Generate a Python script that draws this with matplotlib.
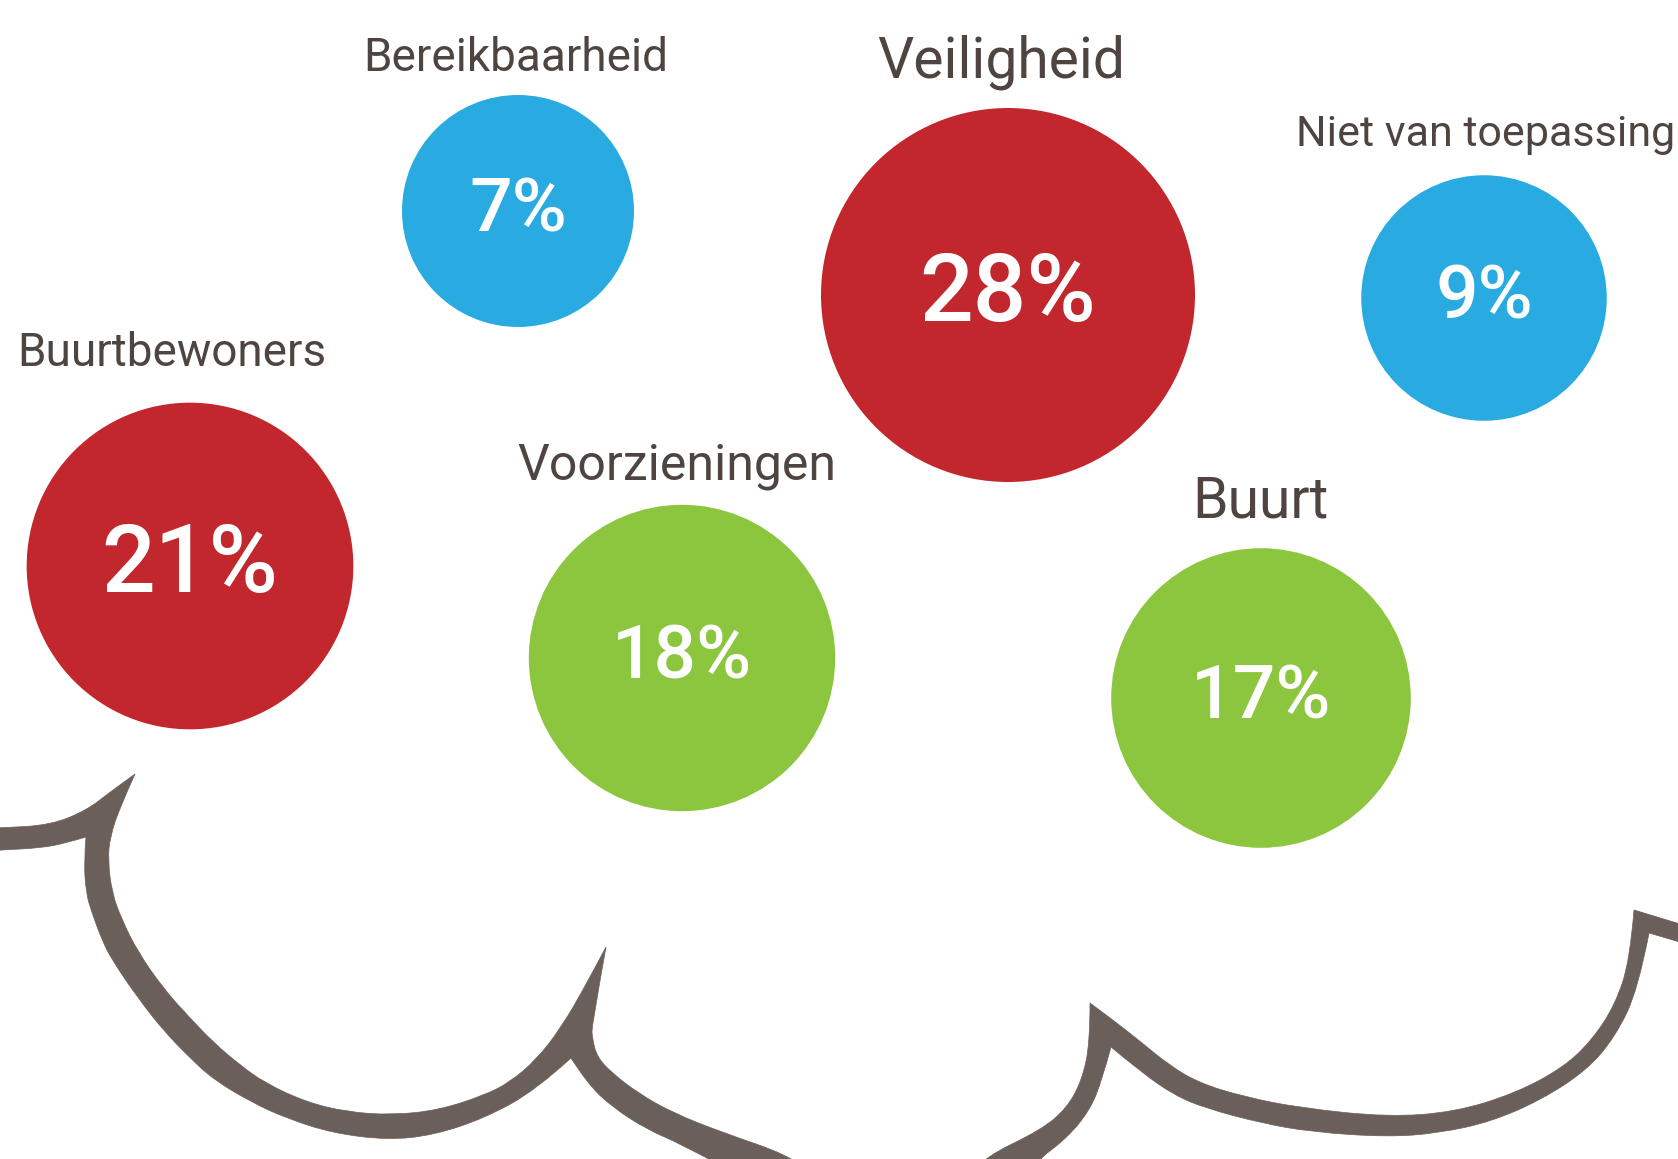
import numpy as np
import matplotlib
matplotlib.use("Agg")
import matplotlib.pyplot as plt
from matplotlib.patches import Circle, PathPatch
from matplotlib.path import Path

# data
categories = ["Bereikbaarheid", "Veiligheid", "Niet van toepassing",
              "Buurtbewoners", "Voorzieningen", "Buurt"]
values = [7, 28, 9, 21, 18, 17]
groups = ["blue", "red", "blue", "red", "green", "green"]

# layout (pixel coords, y downwards)
centers = [(518, 211), (1008, 295), (1484, 298), (190, 566), (682, 658), (1261, 698)]
label_xy = [(516, 71), (1001, 77), (1486, 146), (172, 366), (677, 479), (1260, 517)]
label_size = [33, 41, 31, 33, 36, 41]

colors = {"red": "#c1272d", "blue": "#29abe2", "green": "#8cc63f"}
text_col = "#4f4540"
cloud_col = "#6b5f5a"
plt.rcParams['font.family'] = ['Roboto', 'DejaVu Sans']

W, H = 1678, 1159
fig = plt.figure(figsize=(W / 100, H / 100), dpi=100)
ax = fig.add_axes([0, 0, 1, 1])
ax.set_xlim(0, W)
ax.set_ylim(H, 0)
ax.axis('off')


def radius(v):
    # linear size scale between smallest and largest bubble
    vmin, vmax = min(values), max(values)
    return 116 + (v - vmin) * (187 - 116) / (vmax - vmin)


for v, g, (cx, cy), lab, (lx, ly), ls in zip(values, groups, centers, categories, label_xy, label_size):
    r = radius(v)
    ax.add_patch(Circle((cx, cy), r, color=colors[g], lw=0))
    ax.text(cx, cy, f"{v}%", color="white", ha="center", va="center",
            fontsize=68 if v >= 20 else 54, fontweight="medium")
    ax.text(lx, ly, lab, color=text_col, ha="center", va="baseline", fontsize=ls)


# decorative cloud outline, drawn as filled shapes (pixel coords)
def build(segs):
    verts = [segs[0][0]]
    codes = [Path.MOVETO]
    for s in segs:
        pts = np.array(s, dtype=float)
        if len(pts) == 2:
            verts.append(tuple(pts[1]))
            codes.append(Path.LINETO)
            continue
        for i in range(1, len(pts) - 1):
            end = pts[i + 1] if i == len(pts) - 2 else (pts[i] + pts[i + 1]) / 2
            verts += [tuple(pts[i]), tuple(end)]
            codes += [Path.CURVE3, Path.CURVE3]
    verts.append(verts[0])
    codes.append(Path.CLOSEPOLY)
    return Path(verts, codes)


left_cloud = [
    [(-10, 851), (0, 850), (41, 848), (66, 843), (86, 837)],
    [(86, 837), (84, 860), (86, 893), (92, 913), (102, 940), (112, 960), (138, 998), (163, 1030),
     (189, 1057), (214, 1080), (253, 1103), (286, 1118), (332, 1133), (388, 1140), (434, 1135),
     (485, 1118), (536, 1090), (571, 1058)],
    [(571, 1058), (587, 1083), (612, 1107), (648, 1130), (679, 1143), (720, 1165)],
    [(720, 1165), (800, 1165)],
    [(800, 1165), (788, 1155), (724, 1133), (673, 1113), (638, 1093), (612, 1073), (597, 1057),
     (592, 1037), (592, 1025), (606, 947)],
    [(606, 947), (587, 983), (561, 1028), (536, 1060), (510, 1082), (485, 1095), (439, 1110),
     (393, 1115), (347, 1112), (306, 1102), (265, 1083), (240, 1065), (214, 1043), (189, 1017),
     (163, 988), (138, 952), (122, 920), (112, 893), (108, 860), (110, 837), (120, 807), (135, 774)],
    [(135, 774), (110, 792), (87, 810), (51, 825), (0, 828), (-10, 828)],
]

right_cloud = [
    [(975, 1170), (983, 1158), (1041, 1130), (1067, 1108), (1082, 1080), (1090, 1043), (1090, 1003)],
    [(1090, 1003), (1113, 1020), (1141, 1042), (1169, 1065), (1199, 1083), (1245, 1097),
     (1301, 1108), (1388, 1117), (1455, 1112), (1516, 1093), (1564, 1067), (1592, 1040),
     (1615, 1005), (1630, 960), (1634, 910)],
    [(1634, 910), (1690, 927)],
    [(1690, 927), (1690, 945)],
    [(1690, 945), (1649, 933)],
    [(1649, 933), (1638, 990), (1615, 1037), (1587, 1070), (1541, 1100), (1490, 1122),
     (1439, 1133), (1388, 1137), (1312, 1132), (1261, 1123), (1205, 1108), (1174, 1095),
     (1141, 1072), (1111, 1047)],
    [(1111, 1047), (1102, 1080), (1090, 1110), (1067, 1138), (1039, 1159), (1030, 1170)],
]

for segs in (left_cloud, right_cloud):
    ax.add_patch(PathPatch(build(segs), facecolor=cloud_col, edgecolor=cloud_col, lw=0.5))

fig.savefig("out.png", dpi=100)
